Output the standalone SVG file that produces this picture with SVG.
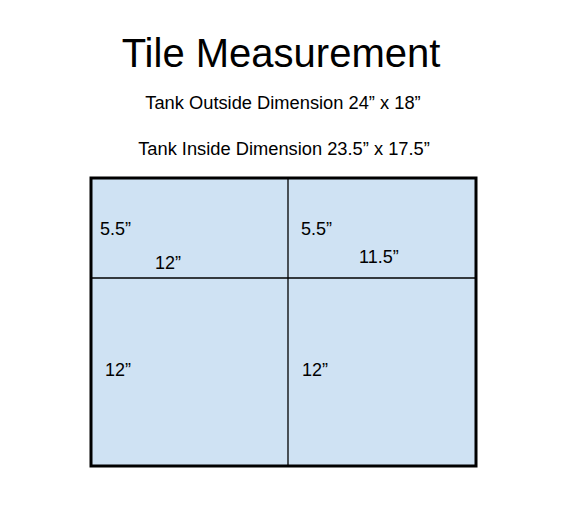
<svg xmlns="http://www.w3.org/2000/svg" width="567" height="526" viewBox="0 0 567 526">
<style>
text{font-family:"Liberation Sans",Arial,sans-serif;fill:#000}
.lbl{font-size:18px}
.sub{font-size:18.3px}
.tile{fill:#cfe2f3;stroke:none}
.div{stroke:#000;stroke-width:1.3;fill:none}
</style>
<rect width="567" height="526" fill="#fff"/>
<text x="281" y="67" font-size="40" text-anchor="middle">Tile Measurement</text>
<text x="283" y="109" class="sub" text-anchor="middle">Tank Outside Dimension 24” x 18”</text>
<text x="284" y="155" class="sub" text-anchor="middle">Tank Inside Dimension 23.5” x 17.5”</text>
<g id="tank">
<rect class="tile" x="91" y="178" width="385" height="288"/>
<g class="div">
<line x1="288" y1="178" x2="288" y2="466"/>
<line x1="91" y1="278" x2="476" y2="278"/>
</g>
<rect x="91" y="178" width="385" height="288" fill="none" stroke="#000" stroke-width="3"/>
</g>
<g id="tile-tl"><text class="lbl" x="100" y="235">5.5”</text><text class="lbl" x="155" y="269">12”</text></g>
<g id="tile-tr"><text class="lbl" x="301" y="235">5.5”</text><text class="lbl" x="359" y="263">11.5”</text></g>
<g id="tile-bl"><text class="lbl" x="105" y="376">12”</text></g>
<g id="tile-br"><text class="lbl" x="302" y="376">12”</text></g>
</svg>
